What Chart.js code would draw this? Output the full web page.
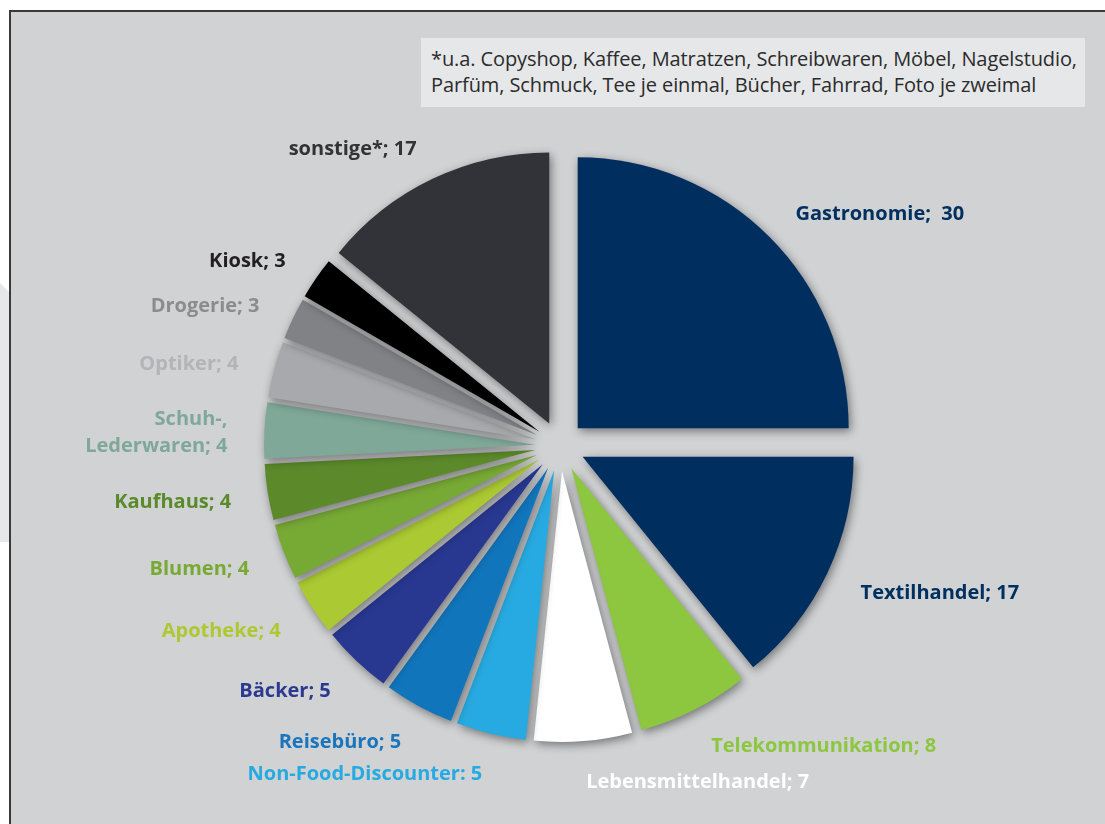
<!DOCTYPE html>
<html lang="de">
<head>
<meta charset="utf-8">
<script src="https://cdn.jsdelivr.net/npm/chart.js@4"></script>
<style>
  html, body { margin: 0; padding: 0; background: #fff; }
  body { width: 1105px; height: 824px; position: relative; overflow: hidden; font-family: "Open Sans", sans-serif; }
  .side-tab {
    position: absolute; left: 0; top: 283px; width: 9px; height: 259px;
    background: #e6e7e8; clip-path: polygon(0 0, 100% 9px, 100% 100%, 0 100%);
  }
  .frame {
    position: absolute; left: 9px; top: 10px; right: -4px; bottom: -4px;
    background: #d1d2d4; border-top: 2px solid #3a3a3c; border-left: 2px solid #3a3a3c;
  }
  .note {
    position: absolute; left: 421px; top: 38px; width: 664px; height: 69px;
    background: #e6e7e8; color: #2b2b2b; box-sizing: border-box; white-space: nowrap;
    padding: 8px 0 0 10px; font-size: 20px; line-height: 26px; letter-spacing: -0.1px;
  }
  #branchenPie { position: absolute; left: 0; top: 0; }
</style>
</head>
<body>
<div class="side-tab"></div>
<div class="frame"></div>
<div class="note">*u.a. Copyshop, Kaffee, Matratzen, Schreibwaren, Möbel, Nagelstudio,<br>Parfüm, Schmuck, Tee je einmal, Bücher, Fahrrad, Foto je zweimal</div>
<canvas id="branchenPie" width="1105" height="824"></canvas>
<script>
const categories = [
  ["Gastronomie"], ["Textilhandel"], ["Telekommunikation"], ["Lebensmittelhandel"],
  ["Non-Food-Discounter"], ["Reisebüro"], ["Bäcker"], ["Apotheke"], ["Blumen"],
  ["Kaufhaus"], ["Schuh-,", "Lederwaren"], ["Optiker"], ["Drogerie"], ["Kiosk"], ["sonstige*"],
];
const counts = [30, 17, 8, 7, 5, 5, 5, 4, 4, 4, 4, 4, 3, 3, 17];
const separators = [";  ", "; ", "; ", "; ", ": ", "; ", "; ", "; ", "; ", "; ", "; ", "; ", "; ", "; ", "; "];
const sliceColors = [
  "#002f5f", "#002f5f", "#8dc63f", "#ffffff", "#27aae1", "#1175bc", "#283891", "#abc932",
  "#77a935", "#5c8a2b", "#7fa898", "#a7a9ac", "#808285", "#000000", "#323338",
];
const labelColors = [
  "#003060", "#003060", "#8dc63f", "#ffffff", "#27aae1", "#1b75bc", "#2b3990", "#acc932",
  "#78a934", "#5a8a2a", "#7fa898", "#b2b4b7", "#8a8c8e", "#231f20", "#333333",
];

// every slice is pushed out from the centre by the same distance
const SLICE_SHIFT = 25;
const LABEL_GAP = 37;

// the built-in arc offset also grows thin slices, so shift them ourselves instead
class ExplodedArc extends Chart.ArcElement {
  static id = "explodedArc";
  draw(ctx) {
    const mid = (this.startAngle + this.endAngle) / 2;
    ctx.save();
    ctx.translate(Math.cos(mid) * SLICE_SHIFT, Math.sin(mid) * SLICE_SHIFT);
    super.draw(ctx);
    ctx.restore();
  }
}
class ExplodedPie extends Chart.PieController {
  static id = "explodedPie";
  static defaults = { dataElementType: "explodedArc" };
}
Chart.register(ExplodedArc, ExplodedPie);

// soft drop shadow under the slices, then the outside labels
const pieDecor = {
  id: "pieDecor",
  beforeDatasetsDraw(chart) {
    const ctx = chart.ctx;
    ctx.save();
    ctx.shadowColor = "rgba(0, 0, 0, 0.45)";
    ctx.shadowBlur = 10;
    ctx.shadowOffsetX = 2;
    ctx.shadowOffsetY = 3;
  },
  afterDatasetsDraw(chart) {
    const ctx = chart.ctx;
    ctx.restore();
    const meta = chart.getDatasetMeta(0);
    ctx.save();
    ctx.font = "bold 20px 'Open Sans', sans-serif";
    ctx.textBaseline = "middle";
    meta.data.forEach((arc, i) => {
      const { x, y, startAngle, endAngle, outerRadius } = arc.getProps(["x", "y", "startAngle", "endAngle", "outerRadius"], true);
      const mid = (startAngle + endAngle) / 2;
      const dist = outerRadius + SLICE_SHIFT + LABEL_GAP;
      const lx = x + Math.cos(mid) * dist;
      const ly = y + Math.sin(mid) * dist + 4;
      const lines = categories[i].slice();
      lines[lines.length - 1] += separators[i] + counts[i];
      const lineH = 27;
      ctx.fillStyle = labelColors[i];
      ctx.textAlign = Math.cos(mid) >= 0 ? "left" : "right";
      lines.forEach((line, k) => {
        ctx.fillText(line, lx, ly + (k - (lines.length - 1) / 2) * lineH);
      });
    });
    ctx.restore();
  },
};

new Chart(document.getElementById("branchenPie"), {
  type: "explodedPie",
  data: {
    labels: categories.map((c) => c.join(" ")),
    datasets: [
      {
        data: counts,
        backgroundColor: sliceColors,
        borderWidth: 0,
        offset: 0,
      },
    ],
  },
  options: {
    responsive: false,
    animation: false,
    events: [],
    radius: 271,
    layout: { padding: { left: 15, top: 68, right: 0, bottom: 0 } },
    plugins: {
      legend: { display: false },
      tooltip: { enabled: false },
    },
  },
  plugins: [pieDecor],
});
</script>
</body>
</html>
